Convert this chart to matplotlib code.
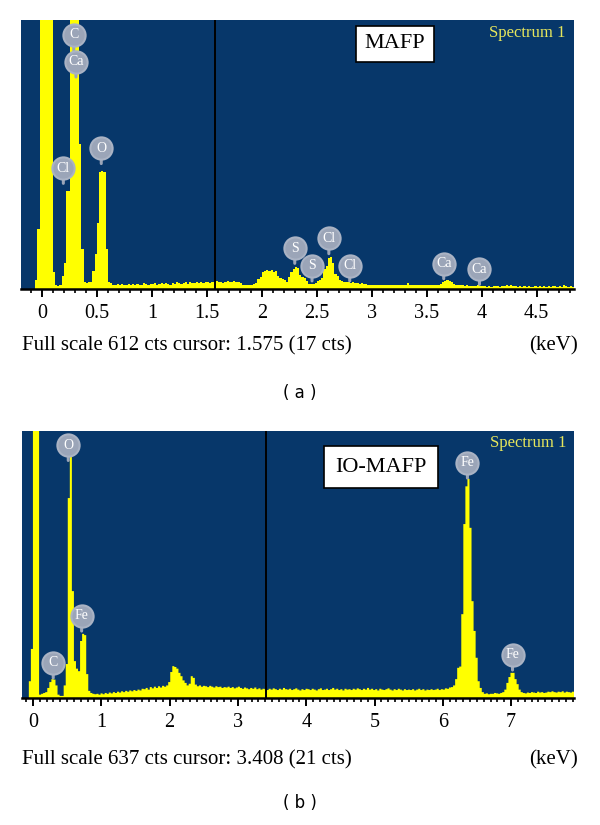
import numpy as np
import matplotlib
matplotlib.use("Agg")
import matplotlib.pyplot as plt
from matplotlib.ticker import MultipleLocator

# EDS spectra, counts per channel (values above full scale are clipped peaks)
start_a = -0.20   # keV, first channel of panel (a)
width_a = 0.02    # keV per channel
counts_a = [
    0, 0, 0, 0, 0, 0, 0, 20, 137, 2000,
    2000, 2000, 2000, 2000, 2000, 39, 8, 6, 8, 30,
    60, 224, 224, 2000, 2000, 2000, 2000, 330, 90, 16,
    14, 16, 15, 40, 80, 150, 266, 268, 266, 92,
    16, 14, 10, 9, 12, 8, 11, 9, 10, 12,
    9, 11, 10, 12, 9, 10, 13, 11, 9, 12,
    11, 13, 10, 12, 14, 11, 13, 12, 10, 14,
    12, 15, 13, 11, 14, 16, 12, 15, 13, 14,
    15, 13, 16, 14, 17, 15, 13, 16, 17, 18,
    15, 17, 14, 16, 18, 15, 17, 19, 16, 15,
    13, 10, 9, 10, 8, 9, 11, 14, 22, 27,
    38, 42, 44, 41, 43, 39, 40, 30, 24, 22,
    20, 16, 28, 38, 46, 50, 48, 32, 27, 25,
    18, 12, 11, 12, 14, 19, 21, 24, 45, 52,
    70, 73, 60, 34, 30, 20, 18, 17, 16, 15,
    14, 15, 13, 14, 12, 13, 11, 12, 10, 9,
    9, 10, 8, 9, 10, 8, 9, 9, 10, 8,
    9, 8, 10, 9, 8, 9, 14, 10, 9, 8,
    9, 8, 9, 10, 8, 9, 8, 9, 8, 9,
    10, 12, 15, 18, 20, 19, 16, 12, 9, 8,
    9, 8, 7, 8, 6, 7, 6, 7, 8, 6,
    7, 6, 5, 6, 5, 6, 7, 6, 5, 6,
    7, 8, 6, 8, 7, 6, 5, 6, 5, 6,
    5, 6, 5, 4, 6, 5, 6, 5, 6, 5,
    6, 5, 7, 6, 5, 6, 5, 8, 6, 5,
    6, 5,
]

start_b = -0.18
width_b = 0.03
counts_b = [
    0, 0, 0, 0, 40, 117, 2000, 2000, 2000, 8,
    10, 12, 14, 24, 38, 45, 44, 30, 8, 5,
    5, 30, 81, 477, 575, 255, 88, 70, 64, 136,
    153, 150, 57, 17, 12, 10, 9, 10, 8, 11,
    9, 12, 10, 13, 11, 14, 12, 15, 13, 16,
    14, 17, 15, 18, 16, 19, 17, 20, 18, 22,
    21, 24, 20, 26, 23, 27, 24, 28, 25, 29,
    27, 30, 38, 62, 76, 74, 70, 60, 52, 42,
    36, 30, 34, 52, 48, 32, 28, 30, 27, 29,
    28, 26, 29, 27, 25, 28, 26, 27, 24, 26,
    25, 27, 24, 26, 23, 25, 27, 24, 22, 25,
    23, 21, 24, 22, 25, 21, 23, 20, 22, 21,
    19, 22, 20, 23, 21, 19, 22, 20, 24, 21,
    20, 22, 19, 21, 23, 20, 18, 21, 19, 22,
    21, 19, 22, 20, 18, 21, 23, 19, 20, 22,
    19, 21, 24, 20, 22, 19, 21, 18, 22, 20,
    21, 19, 22, 20, 23, 21, 19, 22, 20, 24,
    20, 22, 19, 21, 18, 22, 20, 19, 21, 23,
    20, 18, 21, 19, 22, 20, 18, 21, 19, 20,
    19, 21, 18, 20, 22, 19, 21, 18, 20, 19,
    21, 19, 20, 22, 19, 21, 20, 23, 22, 25,
    26, 30, 45, 72, 75, 200, 415, 505, 523, 406,
    231, 160, 96, 40, 24, 14, 10, 11, 9, 10,
    10, 12, 11, 10, 12, 14, 20, 36, 50, 60,
    60, 45, 33, 20, 14, 12, 11, 13, 12, 14,
    13, 12, 15, 13, 14, 12, 13, 15, 14, 16,
    14, 13, 15, 14, 16, 13, 15, 14, 13, 15,
]

# peak labels: element, keV, counts (label centre)
labels_a = [("C", 0.29, 578), ("Ca", 0.31, 517), ("Cl", 0.195, 275), ("O", 0.54, 320),
            ("S", 2.30, 93), ("S", 2.457, 53), ("Cl", 2.61, 115), ("Cl", 2.80, 53),
            ("Ca", 3.655, 58), ("Ca", 3.98, 45)]
labels_b = [("O", 0.517, 603), ("Fe", 0.713, 196), ("C", 0.297, 84),
            ("Fe", 6.36, 561), ("Fe", 7.02, 103)]

full_scale_a, cursor_a, cursor_cts_a = 612, 1.575, 17
full_scale_b, cursor_b, cursor_cts_b = 637, 3.408, 21
ticks_a = [0, 0.5, 1, 1.5, 2, 2.5, 3, 3.5, 4, 4.5]
ticks_b = [0, 1, 2, 3, 4, 5, 6, 7]

NAVY = "#07376a"
YELLOW = "#ffff00"
GRAY = "#9ba5b8"
SERIF = ["Liberation Serif", "DejaVu Serif"]

W, H = 600, 825
fig = plt.figure(figsize=(W / 100, H / 100), dpi=100)


def px_axes(l, t, r, b):
    return fig.add_axes([l / W, 1 - b / H, (r - l) / W, (b - t) / H])


def fig_text(x, y, s, **kw):
    return fig.text(x / W, 1 - y / H, s, **kw)


def draw_panel(ax, start, width, counts, full, cursor, xlim, ticks, labels):
    ax.set_facecolor(NAVY)
    edges = start + width * np.arange(len(counts) + 1)
    y = list(counts) + [counts[-1]]
    ax.fill_between(edges, y, step="post", color=YELLOW, lw=0, zorder=2)
    ax.axvline(cursor, color="black", lw=1.4, zorder=3)
    ax.set_xlim(*xlim)
    ax.set_ylim(0, full)
    ax.set_yticks([])
    ax.set_xticks(ticks)
    ax.set_xticklabels([f"{t:g}" for t in ticks], fontfamily=SERIF, fontsize=14.5)
    ax.xaxis.set_minor_locator(MultipleLocator(0.1))
    ax.tick_params(axis="x", which="major", length=6, width=1.4, direction="out", pad=5)
    ax.tick_params(axis="x", which="minor", length=3, width=1.2, direction="out")
    for s in ["left", "right", "top"]:
        ax.spines[s].set_visible(False)
    ax.spines["bottom"].set_linewidth(1.8)
    for name, ex, cy in labels:
        ax.annotate("", xy=(ex, cy), xytext=(0, -18), textcoords="offset pixels",
                    arrowprops=dict(arrowstyle="-", color=GRAY, lw=2.2), zorder=4)
        ax.plot(ex, cy, marker="o", ms=16, color=GRAY, mec="#aab3c4", mew=1.5,
                zorder=5, clip_on=False)
        ax.text(ex, cy, name, color="white", fontsize=10, fontfamily=SERIF,
                ha="center", va="center", zorder=6)


# panel (a)
ax_a = px_axes(21, 20, 574, 289)
draw_panel(ax_a, start_a, width_a, counts_a, full_scale_a, cursor_a,
           (-0.19, 4.84), ticks_a, labels_a)
fig_text(395, 44, "MAFP", fontfamily=SERIF, fontsize=16, ha="center", va="center",
         bbox=dict(boxstyle="square,pad=0.38", fc="white", ec="black", lw=1.2))
fig_text(527, 33, "Spectrum 1", fontfamily=SERIF, fontsize=12, color="#e6e65c",
         ha="center", va="center")
fig_text(22, 346, f"Full scale {full_scale_a} cts cursor: {cursor_a:.3f} ({cursor_cts_a} cts)",
         fontfamily=SERIF, fontsize=15, ha="left", va="center")
fig_text(578, 346, "(keV)", fontfamily=SERIF, fontsize=15, ha="right", va="center")
fig_text(300, 393, "( a )", fontsize=12, ha="center", va="center")

# panel (b)
ax_b = px_axes(22, 431, 574, 698)
draw_panel(ax_b, start_b, width_b, counts_b, full_scale_b, cursor_b,
           (-0.16, 7.92), ticks_b, labels_b)
fig_text(381, 467, "IO-MAFP", fontfamily=SERIF, fontsize=16, ha="center", va="center",
         bbox=dict(boxstyle="square,pad=0.5", fc="white", ec="black", lw=1.2))
fig_text(528, 443, "Spectrum 1", fontfamily=SERIF, fontsize=12, color="#e6e65c",
         ha="center", va="center")
fig_text(22, 760, f"Full scale {full_scale_b} cts cursor: {cursor_b:.3f} ({cursor_cts_b} cts)",
         fontfamily=SERIF, fontsize=15, ha="left", va="center")
fig_text(578, 760, "(keV)", fontfamily=SERIF, fontsize=15, ha="right", va="center")
fig_text(300, 803, "( b )", fontsize=12, ha="center", va="center")

fig.savefig("out.png", dpi=100)
